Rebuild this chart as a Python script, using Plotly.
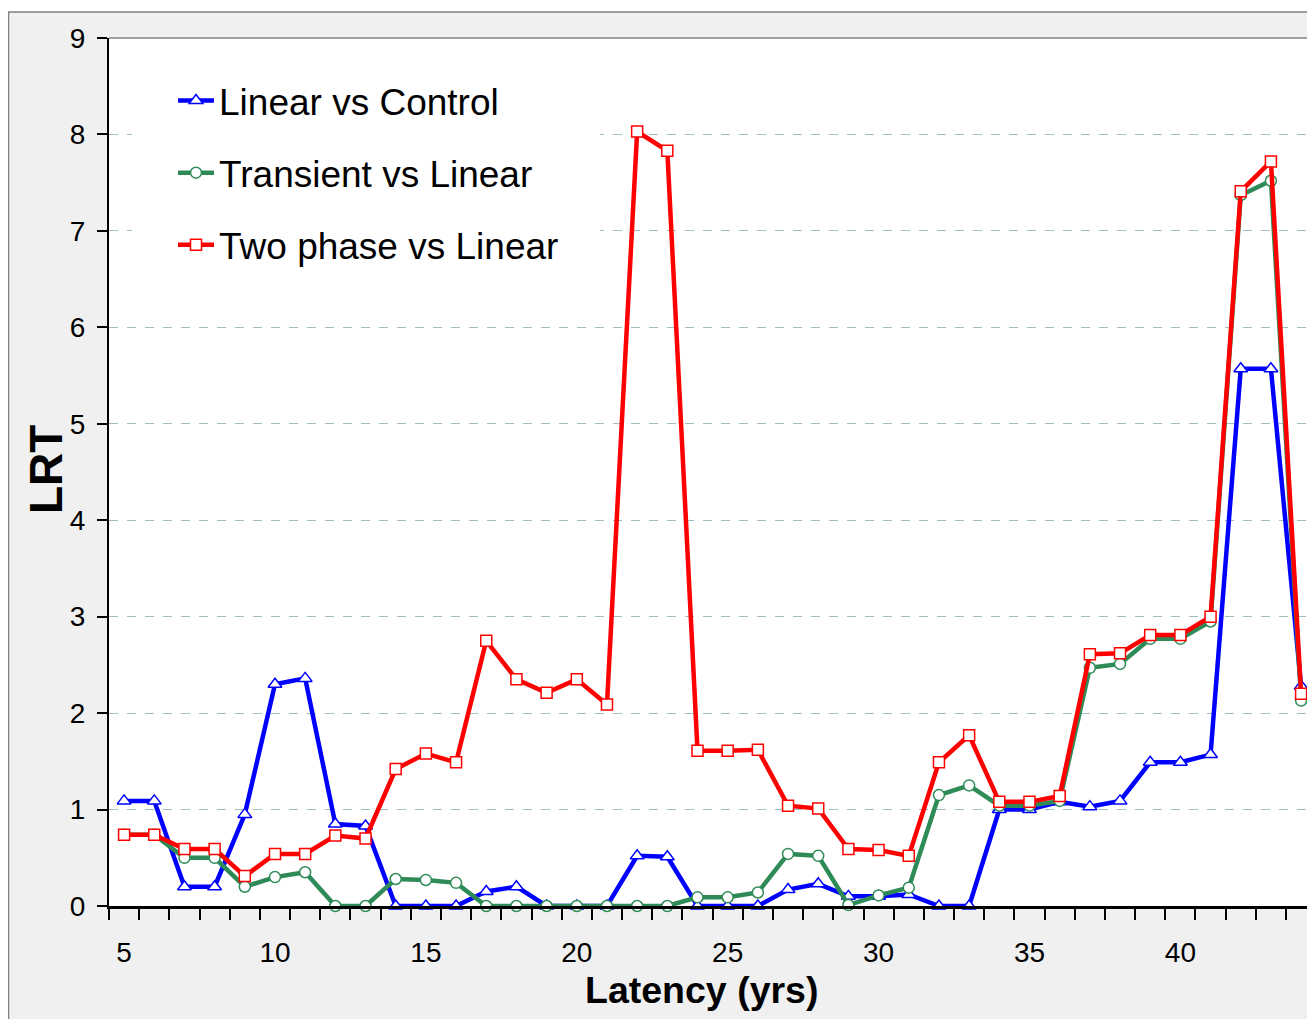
import plotly.graph_objects as go

# latency in years
latency = list(range(5, 45))

linear_vs_control = [1.09, 1.09, 0.20, 0.20, 0.95, 2.30, 2.36, 0.85, 0.83, 0.00,
                     0.00, 0.00, 0.15, 0.20, 0.00, 0.00, 0.00, 0.52, 0.51, 0.00,
                     0.00, 0.00, 0.17, 0.23, 0.10, 0.10, 0.12, 0.00, 0.00, 1.00,
                     1.00, 1.08, 1.03, 1.09, 1.49, 1.49, 1.57, 5.57, 5.57, 2.28]

transient_vs_linear = [0.74, 0.74, 0.50, 0.50, 0.20, 0.30, 0.35, 0.00, 0.00, 0.28,
                       0.27, 0.24, 0.00, 0.00, 0.00, 0.00, 0.00, 0.00, 0.00, 0.09,
                       0.09, 0.14, 0.54, 0.52, 0.01, 0.11, 0.19, 1.15, 1.25, 1.04,
                       1.04, 1.09, 2.47, 2.51, 2.77, 2.77, 2.95, 7.37, 7.52, 2.13]

two_phase_vs_linear = [0.74, 0.74, 0.59, 0.59, 0.31, 0.54, 0.54, 0.73, 0.70, 1.42,
                       1.58, 1.49, 2.75, 2.35, 2.21, 2.35, 2.09, 8.03, 7.83, 1.61,
                       1.61, 1.62, 1.04, 1.01, 0.59, 0.58, 0.52, 1.49, 1.77, 1.08,
                       1.08, 1.14, 2.61, 2.62, 2.81, 2.81, 3.00, 7.41, 7.72, 2.20]

x_ticks = [5, 10, 15, 20, 25, 30, 35, 40]
y_ticks = list(range(0, 10))

font_name = 'Liberation Sans, Arial, sans-serif'
frame_grey = '#f0f0f0'

# the page puts the figure 8px in from the top left corner
W, H = 1307, 1011
L, R, T, B = 101, 1307, 30, 898   # plot area in figure pixels
PX_PER_YEAR = 30.18
def px_x(p):
    return (p - L) / (R - L)
def px_y(p):
    return (B - p) / (B - T)

series = [
    ('Linear vs Control', linear_vs_control, '#0000ff', 'triangle-up', 12, 'g1'),
    ('Transient vs Linear', transient_vs_linear, '#2e8b57', 'circle', 11, 'g2'),
    ('Two phase vs Linear', two_phase_vs_linear, '#ff0000', 'square', 11, 'g3'),
]

fig = go.Figure()
for name, vals, col, sym, size, grp in series:
    fig.add_trace(go.Scatter(
        x=latency, y=vals, name=name, mode='lines+markers',
        legendgroup=grp,
        line=dict(color=col, width=4.5),
        marker=dict(symbol=sym, size=size, color='white',
                    line=dict(color=col, width=1.5)),
        cliponaxis=False,
    ))

fig.update_layout(
    width=W, height=H,
    margin=dict(l=L, r=W - R, t=T, b=H - B),
    paper_bgcolor=frame_grey,
    plot_bgcolor='white',
    font=dict(family=font_name, size=28, color='black'),
    showlegend=True,
    legend=dict(x=px_x(165), y=px_y(62), xanchor='left', yanchor='top',
                bgcolor='white', borderwidth=0,
                font=dict(size=37, family=font_name),
                traceorder='grouped', tracegroupgap=21,
                itemwidth=36),
    annotations=[
        dict(text='<b>LRT</b>', textangle=-90, showarrow=False,
             xref='paper', yref='paper',
             x=px_x(38), y=px_y(462),
             xanchor='center', yanchor='middle',
             font=dict(size=46, family=font_name)),
        dict(text='<b>Latency (yrs)</b>', showarrow=False,
             xref='paper', yref='paper',
             x=px_x(693), y=px_y(982),
             xanchor='center', yanchor='middle',
             font=dict(size=37.5, family=font_name)),
    ],
)

fig.update_xaxes(
    range=[4.5, 4.5 + (R - L) / PX_PER_YEAR],
    tickmode='array', tickvals=x_ticks, ticktext=[str(t) for t in x_ticks],
    ticks='', ticklabelstandoff=19,
    showgrid=False, zeroline=False,
    showline=True, linecolor='black', linewidth=3,
    minor=dict(tickmode='linear', tick0=4.5, dtick=1, ticks='outside',
               ticklen=11, tickwidth=2, tickcolor='black', showgrid=False),
    fixedrange=True,
)

fig.update_yaxes(
    range=[0, 9],
    tickmode='array', tickvals=y_ticks,
    ticks='outside', ticklen=10, tickwidth=2, tickcolor='black',
    ticklabelstandoff=6,
    showgrid=True, gridcolor='#9fbfbf', griddash='dash', gridwidth=1,
    zeroline=False,
    showline=True, linecolor='black', linewidth=2,
    fixedrange=True,
)

# legend box background reaches further right than the text;
# drawn between the gridlines and the traces
fig.add_shape(type='rect', xref='x', yref='y', layer='between',
              x0=4.5 + (124 - L) / PX_PER_YEAR, x1=4.5 + (592 - L) / PX_PER_YEAR,
              y0=9 * px_y(280), y1=9 * px_y(50),
              fillcolor='white', line=dict(width=0))

# white strip above the grey frame, frame border and plot top border
fig.add_shape(type='rect', xref='paper', yref='paper', layer='above',
              x0=px_x(0), x1=px_x(W), y0=px_y(0), y1=px_y(4),
              fillcolor='white', line=dict(width=0))
fig.add_shape(type='line', xref='paper', yref='paper', layer='above',
              x0=px_x(0), x1=px_x(W), y0=px_y(4), y1=px_y(4),
              line=dict(color='#808080', width=1.5))
fig.add_shape(type='line', xref='paper', yref='paper', layer='above',
              x0=px_x(0.5), x1=px_x(0.5), y0=px_y(4), y1=px_y(H),
              line=dict(color='#808080', width=1.5))
fig.add_shape(type='line', xref='paper', yref='paper', layer='above',
              x0=0, x1=1, y0=1, y1=1,
              line=dict(color='#a0a0a0', width=2))

fig.write_html("out.html")
